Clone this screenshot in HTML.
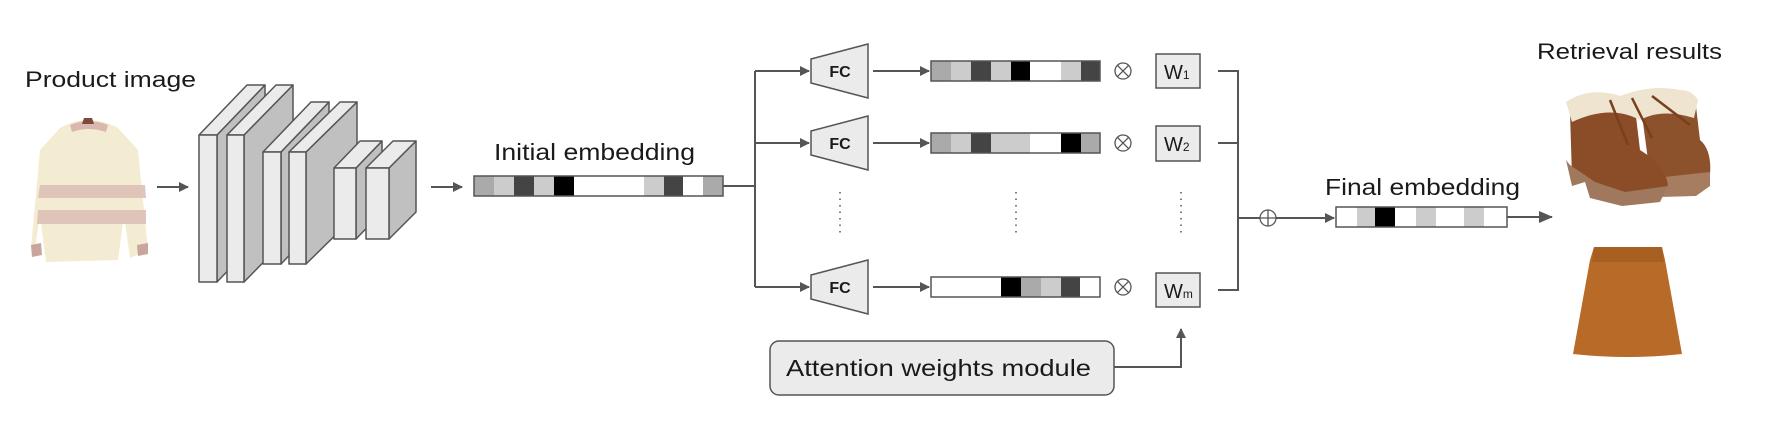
<!DOCTYPE html>
<html><head><meta charset="utf-8"><style>
html,body{margin:0;padding:0;background:#fff;}
svg{display:block;}
text{font-family:"Liberation Sans",sans-serif;fill:#1a1a1a;}
</style></head><body>
<svg width="1775" height="422" viewBox="0 0 1775 422" xmlns="http://www.w3.org/2000/svg">
<defs>
<marker id="ah" markerWidth="10" markerHeight="10" refX="9" refY="5" orient="auto" markerUnits="userSpaceOnUse"><path d="M0,0 L10,5 L0,10 z" fill="#555"/></marker>
<marker id="ah2" markerWidth="14" markerHeight="12" refX="13" refY="6" orient="auto" markerUnits="userSpaceOnUse"><path d="M0,0 L14,6 L0,12 z" fill="#555"/></marker>
</defs>
<text x="25" y="87" font-size="22" textLength="171" lengthAdjust="spacingAndGlyphs">Product image</text>
<g>
<path d="M60,128 Q88,112 118,128 L138,150 L148,250 L130,258 L124,215 L118,260 L46,262 L40,215 L34,256 L31,248 L40,150 Z" fill="#f4ecd2"/>
<path d="M70,125 Q88,117 108,125 L106,132 Q88,126 72,132 Z" fill="#d9b8b0"/>
<path d="M40,185 L145,185 L146,198 L38,198 Z" fill="#dcc0b6" opacity="0.9"/>
<path d="M38,210 L146,210 L146,224 L37,224 Z" fill="#dcc0b6" opacity="0.9"/>
<path d="M31,245 L41,243 L42,255 L32,257 Z" fill="#c9a59e"/>
<path d="M137,245 L148,243 L148,254 L138,256 Z" fill="#c9a59e"/>
<path d="M84,118 L92,118 L94,124 L82,124 Z" fill="#7a4a3a"/>
</g>
<line x1="157" y1="187" x2="188" y2="187" stroke="#555" stroke-width="2" marker-end="url(#ah)"/>
<g stroke="#555" stroke-width="1.5" stroke-linejoin="round">
<path d="M217,135 L265,85 L265,232 L217,282 Z" fill="#c0c0c0"/>
<path d="M199,135 L247,85 L265,85 L217,135 Z" fill="#ebebeb"/>
<rect x="199" y="135" width="18" height="147" fill="#ebebeb"/>
<path d="M244,135 L293,85 L293,232 L244,282 Z" fill="#c0c0c0"/>
<path d="M227,135 L276,85 L293,85 L244,135 Z" fill="#ebebeb"/>
<rect x="227" y="135" width="17" height="147" fill="#ebebeb"/>
<path d="M281,152 L329,102 L329,214 L281,264 Z" fill="#c0c0c0"/>
<path d="M263,152 L311,102 L329,102 L281,152 Z" fill="#ebebeb"/>
<rect x="263" y="152" width="18" height="112" fill="#ebebeb"/>
<path d="M306,152 L357,102 L357,214 L306,264 Z" fill="#c0c0c0"/>
<path d="M289,152 L340,102 L357,102 L306,152 Z" fill="#ebebeb"/>
<rect x="289" y="152" width="17" height="112" fill="#ebebeb"/>
<path d="M356,168 L382,141 L382,212 L356,239 Z" fill="#c0c0c0"/>
<path d="M334,168 L360,141 L382,141 L356,168 Z" fill="#ebebeb"/>
<rect x="334" y="168" width="22" height="71" fill="#ebebeb"/>
<path d="M389,168 L416,141 L416,212 L389,239 Z" fill="#c0c0c0"/>
<path d="M366,168 L393,141 L416,141 L389,168 Z" fill="#ebebeb"/>
<rect x="366" y="168" width="23" height="71" fill="#ebebeb"/>
</g>
<line x1="431" y1="187" x2="462" y2="187" stroke="#555" stroke-width="2" marker-end="url(#ah)"/>
<text x="494" y="160" font-size="23" textLength="201" lengthAdjust="spacingAndGlyphs">Initial embedding</text>
<g>
<rect x="474" y="176" width="20" height="20" fill="#aaa"/>
<rect x="494" y="176" width="20" height="20" fill="#ccc"/>
<rect x="514" y="176" width="20" height="20" fill="#444"/>
<rect x="534" y="176" width="20" height="20" fill="#ccc"/>
<rect x="554" y="176" width="20" height="20" fill="#000"/>
<rect x="574" y="176" width="70" height="20" fill="#fff"/>
<rect x="644" y="176" width="20" height="20" fill="#ccc"/>
<rect x="664" y="176" width="19" height="20" fill="#444"/>
<rect x="683" y="176" width="20" height="20" fill="#fff"/>
<rect x="703" y="176" width="20" height="20" fill="#aaa"/>
<rect x="474" y="176" width="249" height="20" fill="none" stroke="#555" stroke-width="1.5"/>
</g>
<g stroke="#555" stroke-width="2" fill="none">
<polyline points="723,186 755,186"/>
<line x1="755" y1="71" x2="755" y2="287"/>
<line x1="755" y1="71" x2="809" y2="71" marker-end="url(#ah)"/>
<line x1="755" y1="143" x2="809" y2="143" marker-end="url(#ah)"/>
<line x1="755" y1="287" x2="809" y2="287" marker-end="url(#ah)"/>
</g>
<g stroke="#555" stroke-width="1.5" fill="#ebebeb">
<path d="M811,59 L868,44 L868,98 L811,83 Z"/>
<path d="M811,131 L868,116 L868,170 L811,155 Z"/>
<path d="M811,275 L868,260 L868,314 L811,299 Z"/>
</g>
<g font-size="16" font-weight="bold" text-anchor="middle">
<text x="840" y="77">FC</text><text x="840" y="149">FC</text><text x="840" y="293">FC</text>
</g>
<g stroke="#555" stroke-width="2">
<line x1="873" y1="71" x2="929" y2="71" marker-end="url(#ah)"/>
<line x1="873" y1="143" x2="929" y2="143" marker-end="url(#ah)"/>
<line x1="873" y1="287" x2="929" y2="287" marker-end="url(#ah)"/>
</g>
<g>
<rect x="931" y="61" width="20" height="20" fill="#aaa"/><rect x="951" y="61" width="20" height="20" fill="#ccc"/><rect x="971" y="61" width="20" height="20" fill="#444"/><rect x="991" y="61" width="20" height="20" fill="#ccc"/><rect x="1011" y="61" width="19" height="20" fill="#000"/><rect x="1030" y="61" width="31" height="20" fill="#fff"/><rect x="1061" y="61" width="20" height="20" fill="#ccc"/><rect x="1081" y="61" width="19" height="20" fill="#444"/>
<rect x="931" y="61" width="169" height="20" fill="none" stroke="#555" stroke-width="1.5"/>
<rect x="931" y="133" width="20" height="20" fill="#aaa"/><rect x="951" y="133" width="20" height="20" fill="#ccc"/><rect x="971" y="133" width="20" height="20" fill="#444"/><rect x="991" y="133" width="20" height="20" fill="#ccc"/><rect x="1011" y="133" width="19" height="20" fill="#ccc"/><rect x="1030" y="133" width="31" height="20" fill="#fff"/><rect x="1061" y="133" width="20" height="20" fill="#000"/><rect x="1081" y="133" width="19" height="20" fill="#aaa"/>
<rect x="931" y="133" width="169" height="20" fill="none" stroke="#555" stroke-width="1.5"/>
<rect x="931" y="277" width="70" height="20" fill="#fff"/><rect x="1001" y="277" width="20" height="20" fill="#000"/><rect x="1021" y="277" width="20" height="20" fill="#aaa"/><rect x="1041" y="277" width="20" height="20" fill="#ccc"/><rect x="1061" y="277" width="19" height="20" fill="#444"/><rect x="1080" y="277" width="20" height="20" fill="#fff"/>
<rect x="931" y="277" width="169" height="20" fill="none" stroke="#555" stroke-width="1.5"/>
</g>
<g stroke="#555" stroke-width="1.3" fill="none">
<circle cx="1123" cy="71" r="8"/><path d="M1117.3,65.3 L1128.7,76.7 M1128.7,65.3 L1117.3,76.7"/>
<circle cx="1123" cy="143" r="8"/><path d="M1117.3,137.3 L1128.7,148.7 M1128.7,137.3 L1117.3,148.7"/>
<circle cx="1123" cy="287" r="8"/><path d="M1117.3,281.3 L1128.7,292.7 M1128.7,281.3 L1117.3,292.7"/>
</g>
<g stroke="#555" stroke-width="1.5" fill="#ebebeb">
<rect x="1156" y="54" width="44" height="34"/>
<rect x="1156" y="126" width="44" height="35"/>
<rect x="1156" y="273" width="44" height="34"/>
</g>
<g font-size="20">
<text x="1164" y="79">W<tspan font-size="12">1</tspan></text>
<text x="1164" y="151">W<tspan font-size="12">2</tspan></text>
<text x="1164" y="298">W<tspan font-size="12">m</tspan></text>
</g>
<g stroke="#555" stroke-width="1.5" stroke-dasharray="1.5,5">
<line x1="840" y1="192" x2="840" y2="234"/>
<line x1="1016" y1="192" x2="1016" y2="234"/>
<line x1="1181" y1="192" x2="1181" y2="234"/>
</g>
<g stroke="#555" stroke-width="2" fill="none">
<polyline points="1218,71 1238,71 1238,290 1218,290"/>
<line x1="1218" y1="143" x2="1238" y2="143"/>
<line x1="1238" y1="218" x2="1334" y2="218" marker-end="url(#ah)"/>
</g>
<g stroke="#555" stroke-width="1.3" fill="#fff">
<circle cx="1268" cy="218" r="8"/>
<path d="M1260,218 L1276,218 M1268,210 L1268,226" fill="none"/>
</g>
<text x="1325" y="195" font-size="23" textLength="195" lengthAdjust="spacingAndGlyphs">Final embedding</text>
<g>
<rect x="1336" y="207" width="171" height="20" fill="#fff"/>
<rect x="1357" y="207" width="18" height="20" fill="#ccc"/>
<rect x="1375" y="207" width="20" height="20" fill="#000"/>
<rect x="1416" y="207" width="20" height="20" fill="#ccc"/>
<rect x="1464" y="207" width="20" height="20" fill="#ccc"/>
<rect x="1336" y="207" width="171" height="20" fill="none" stroke="#555" stroke-width="1.5"/>
</g>
<line x1="1507" y1="217" x2="1552" y2="217" stroke="#555" stroke-width="2" marker-end="url(#ah2)"/>
<text x="1537" y="59" font-size="22" textLength="185" lengthAdjust="spacingAndGlyphs">Retrieval results</text>
<!-- boots -->
<g>
<!-- back boot -->
<path d="M1640,100 Q1670,88 1695,98 L1700,140 Q1712,150 1710,175 L1700,188 L1662,192 L1650,175 Z" fill="#8c522c"/>
<path d="M1655,178 L1710,172 L1710,186 L1696,196 L1660,197 Z" fill="#a67d60"/>
<!-- front boot -->
<path d="M1570,112 Q1600,96 1635,108 L1640,150 Q1665,165 1668,185 L1660,195 L1600,196 L1585,175 L1572,178 Z" fill="#8a4d28"/>
<path d="M1566,160 L1572,186 L1585,182 L1590,198 L1622,206 L1660,202 L1668,186 L1625,192 L1595,182 L1570,165 Z" fill="#a0785e"/>
<path d="M1566,102 Q1590,86 1620,96 Q1650,84 1680,90 Q1692,90 1698,100 L1694,118 Q1662,108 1640,120 Q1610,104 1572,122 Z" fill="#efe4cf"/>
<path d="M1610,100 L1628,145 M1632,98 L1652,138 M1652,96 L1690,125" stroke="#7a3f1c" stroke-width="2.5" fill="none"/>
</g>
<path d="M1594,247 L1662,247 L1665,260 L1682,354 Q1628,360 1573,354 L1590,260 Z" fill="#b86a28"/>
<path d="M1594,247 L1662,247 L1664,262 L1592,262 Z" fill="#a85f22"/>
<rect x="770" y="341" width="344" height="54" rx="9" ry="9" fill="#ebebeb" stroke="#555" stroke-width="1.5"/>
<text x="786" y="376" font-size="23" textLength="305" lengthAdjust="spacingAndGlyphs">Attention weights module</text>
<polyline points="1114,367 1181,367 1181,329" fill="none" stroke="#555" stroke-width="2" marker-end="url(#ah)"/>
</svg>
</body></html>
